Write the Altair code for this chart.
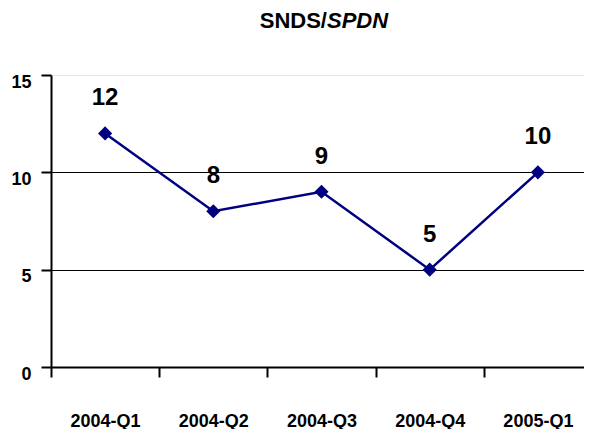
import altair as alt
import pandas as pd

quarters = ["2004-Q1", "2004-Q2", "2004-Q3", "2004-Q4", "2005-Q1"]
values = [12, 8, 9, 5, 10]
y_ticks = [0, 5, 10, 15]
title_plain = "SNDS/"
title_italic = "SPDN"

FONT = "Liberation Sans"
NAVY = "#000080"

df = pd.DataFrame({"quarter": quarters, "value": values})

x_enc = alt.X(
    "quarter:N",
    sort=quarters,
    scale=alt.Scale(paddingInner=0, paddingOuter=0, range=[0, 541]),
    axis=alt.Axis(
        title=None,
        labelAngle=0,
        tickBand="extent",
        labelPadding=35,
        grid=False,
    ),
)
y_enc = alt.Y(
    "value:Q",
    scale=alt.Scale(domain=[0, 15], nice=False, zero=True),
    axis=alt.Axis(
        title=None,
        values=y_ticks,
        labelPadding=10,
        labelOffset=7,
        grid=True,
        gridColor={"condition": {"test": "datum.value === 15", "value": "#e6e6e6"}, "value": "#000000"},
        gridWidth=1,
    ),
)

base = alt.Chart(df)

line = base.mark_line(color=NAVY, strokeWidth=2.5).encode(x=x_enc, y=y_enc)
points = base.mark_point(
    shape="diamond", filled=True, color=NAVY, size=200, opacity=1
).encode(x="quarter:N", y="value:Q")
labels = base.mark_text(
    font=FONT, fontSize=24, fontWeight="bold", color="black", dy=-35, baseline="middle"
).encode(x="quarter:N", y="value:Q", text="value:Q")

t1 = alt.Chart(pd.DataFrame({"t": [title_plain]})).mark_text(
    font=FONT, fontSize=22, fontWeight="bold", align="right", baseline="alphabetic", color="black"
).encode(x=alt.value(276), y=alt.value(-47), text="t:N")
t2 = alt.Chart(pd.DataFrame({"t": [title_italic]})).mark_text(
    font=FONT, fontSize=22, fontWeight="bold", fontStyle="italic", align="left",
    baseline="alphabetic", color="black"
).encode(x=alt.value(276), y=alt.value(-47), text="t:N")

chart = (
    alt.layer(line, points, labels, t1, t2)
    .properties(
        width=533,
        height=292,
        autosize=alt.AutoSizeParams(type="none"),
        padding={"left": 43, "top": 67, "right": 0, "bottom": 62},
        background="white",
    )
    .configure_view(stroke=None)
    .configure_axis(
        labelFont=FONT,
        labelFontSize=18,
        labelFontWeight="bold",
        labelColor="black",
        domainColor="black",
        domainWidth=2,
        tickColor="black",
        tickWidth=2,
        tickSize=10,
    )
)

chart.save("out.html", embed_options={"renderer": "svg", "actions": False})
